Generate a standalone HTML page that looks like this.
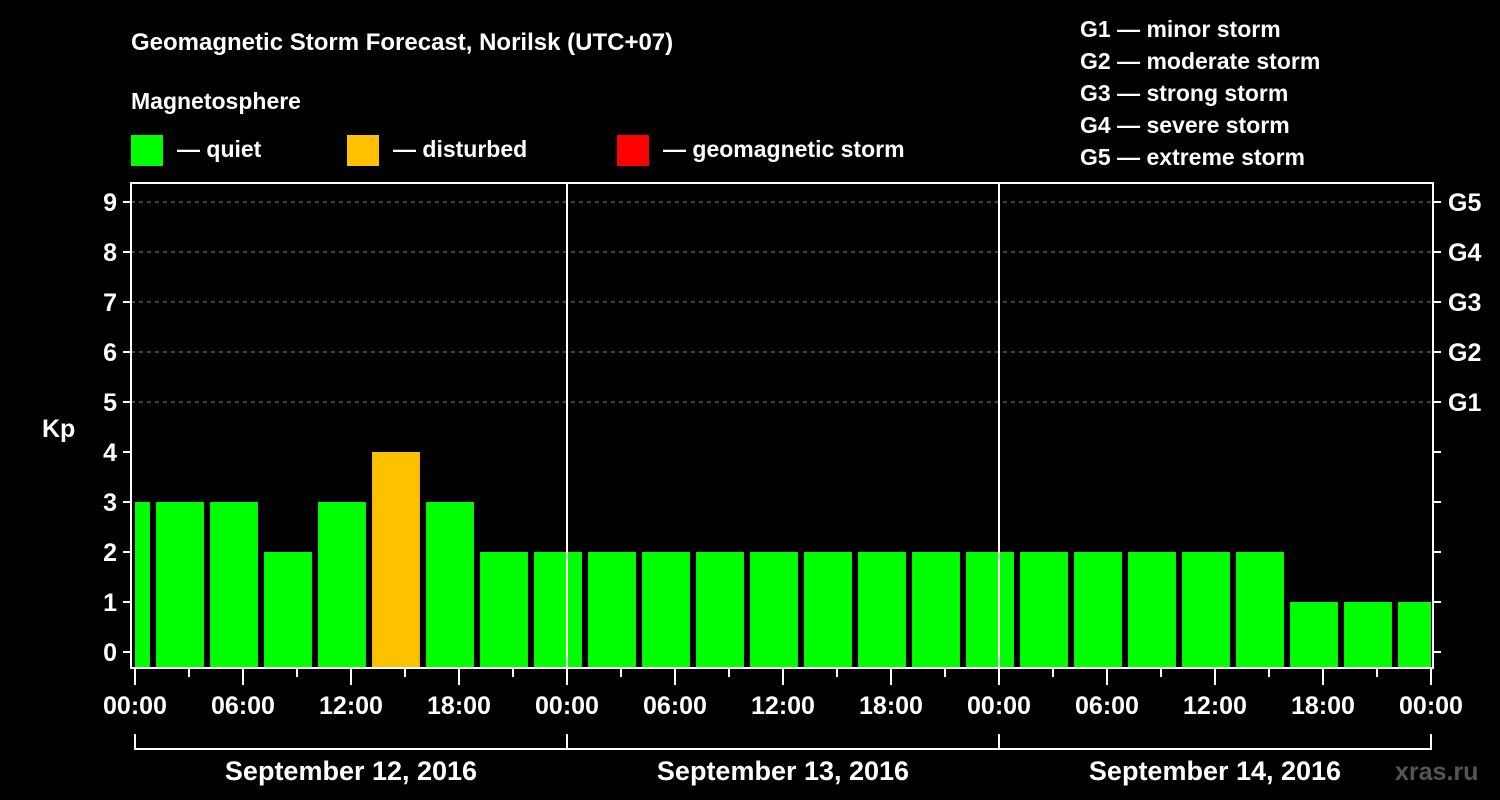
<!DOCTYPE html>
<html><head><meta charset="utf-8"><style>
html,body{margin:0;padding:0;background:#000;}
svg{display:block;font-family:"Liberation Sans",Arial,sans-serif;font-weight:bold;}
</style></head><body>
<svg id="chart" width="1500" height="800" viewBox="0 0 1500 800">
<rect width="1500" height="800" fill="#000"/>
<text x="131" y="50" fill="#fff" font-size="24">Geomagnetic Storm Forecast, Norilsk (UTC+07)</text>
<text x="131" y="109" fill="#fff" font-size="23">Magnetosphere</text>
<g><rect x="131" y="135" width="32" height="31" fill="#00ff00"/><text x="177" y="157" fill="#fff" font-size="23">— quiet</text></g>
<g><rect x="347" y="135" width="32" height="31" fill="#ffc000"/><text x="393" y="157" fill="#fff" font-size="23">— disturbed</text></g>
<g><rect x="617" y="135" width="32" height="31" fill="#ff0000"/><text x="663" y="157" fill="#fff" font-size="23">— geomagnetic storm</text></g>
<g fill="#fff" font-size="23">
<text x="1080" y="37">G1 — minor storm</text>
<text x="1080" y="69">G2 — moderate storm</text>
<text x="1080" y="101">G3 — strong storm</text>
<text x="1080" y="133">G4 — severe storm</text>
<text x="1080" y="165">G5 — extreme storm</text>
</g>
<text x="42" y="437" fill="#fff" font-size="25">Kp</text>
<text x="1395" y="780" fill="#555" font-size="25">xras.ru</text>
<g id="plot"></g>
</svg>
<script>
const kpValues=[3,3,3,2,3,4,3,2,2,2,2,2,2,2,2,2,2,2,2,2,2,2,1,1,1];
const intervalStartHours=[-2,1,4,7,10,13,16,19,22,25,28,31,34,37,40,43,46,49,52,55,58,61,64,67,70];
const xTickLabels=["00:00","06:00","12:00","18:00","00:00","06:00","12:00","18:00","00:00","06:00","12:00","18:00","00:00"];
const dateLabels=["September 12, 2016","September 13, 2016","September 14, 2016"];
const gLabels=["G1","G2","G3","G4","G5"];
const yTicks=[0,1,2,3,4,5,6,7,8,9];

const NS="http://www.w3.org/2000/svg";
const g=document.getElementById('plot');
const X0=135,PXH=18,HMAX=72;
const x=h=>X0+h*PXH;
const y=v=>652-v*50;
const L=131,R=1433,T=183,B=668;
function mk(tag,attrs,parent){const e=document.createElementNS(NS,tag);for(const k in attrs)e.setAttribute(k,attrs[k]);(parent||g).appendChild(e);return e;}
// grid
for(let v=5;v<=9;v++){const e=mk('line',{x1:L,x2:R,y1:y(v),y2:y(v),stroke:'#888','stroke-dasharray':'4,4','stroke-width':1});

}
// bars
kpValues.forEach((v,i)=>{
 let h0=Math.max(0,intervalStartHours[i]+0.17),h1=Math.min(HMAX,intervalStartHours[i]+3-0.17);
 const col=v>=5?'#ff0000':(v>=4?'#ffc000':'#00ff00');
 const r=mk('rect',{x:x(h0),y:y(v),width:x(h1)-x(h0),height:B-y(v),fill:col});
 
 
});
// day separators
[24,48].forEach(h=>{const e=mk('line',{x1:x(h),x2:x(h),y1:T,y2:B,stroke:'#fff','stroke-width':2});

});
// frame
const fr=mk('rect',{x:L,y:T,width:R-L,height:B-T,fill:'none',stroke:'#fff','stroke-width':2});


// y ticks
yTicks.forEach(v=>{
 mk('line',{x1:L-8,x2:L,y1:y(v),y2:y(v),stroke:'#fff','stroke-width':2});
 mk('line',{x1:R,x2:R+8,y1:y(v),y2:y(v),stroke:'#fff','stroke-width':2});
 const t=mk('text',{x:L-14,y:y(v)+9,fill:'#fff','font-size':25,'text-anchor':'end'});t.textContent=v;
 
 
});
gLabels.forEach((s,i)=>{const t=mk('text',{x:1448,y:y(5+i)+9,fill:'#fff','font-size':25});t.textContent=s;
 
 });
// x ticks
for(let h=0;h<=HMAX;h+=3){const major=h%6===0;mk('line',{x1:x(h),x2:x(h),y1:B,y2:B+(major?17:9),stroke:'#fff','stroke-width':2});}
xTickLabels.forEach((s,i)=>{const t=mk('text',{x:x(i*6),y:714,fill:'#fff','font-size':25,'text-anchor':'middle'});t.textContent=s;
 
 });
// date bracket
mk('line',{x1:x(0),x2:x(HMAX),y1:749,y2:749,stroke:'#fff','stroke-width':2});
[0,24,48,72].forEach(h=>mk('line',{x1:x(h),x2:x(h),y1:734,y2:750,stroke:'#fff','stroke-width':2}));
dateLabels.forEach((s,i)=>{const t=mk('text',{x:x(i*24+12),y:780,fill:'#fff','font-size':27,'text-anchor':'middle'});t.textContent=s;
 
 });
</script>
</body></html>
